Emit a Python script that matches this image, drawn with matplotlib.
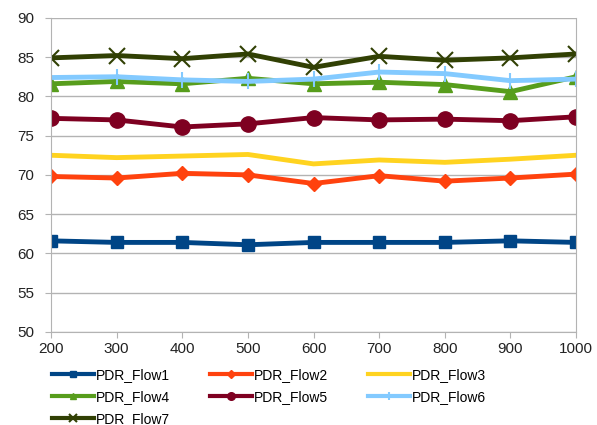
import matplotlib.pyplot as plt

plt.rcParams['font.family'] = ['Liberation Sans', 'DejaVu Sans']

nodes = [200, 300, 400, 500, 600, 700, 800, 900, 1000]

pdr_flow1 = [61.6, 61.4, 61.4, 61.1, 61.4, 61.4, 61.4, 61.6, 61.4]
pdr_flow2 = [69.8, 69.6, 70.2, 70.0, 68.9, 69.9, 69.2, 69.6, 70.1]
pdr_flow3 = [72.5, 72.2, 72.4, 72.6, 71.4, 71.9, 71.6, 72.0, 72.5]
pdr_flow4 = [81.6, 81.9, 81.6, 82.3, 81.6, 81.8, 81.5, 80.6, 82.5]
pdr_flow5 = [77.2, 77.0, 76.1, 76.5, 77.3, 77.0, 77.1, 76.9, 77.4]
pdr_flow6 = [82.4, 82.5, 82.1, 81.9, 82.2, 83.1, 82.9, 82.0, 82.2]
pdr_flow7 = [84.9, 85.2, 84.8, 85.4, 83.7, 85.1, 84.6, 84.9, 85.4]

series = [
    ('PDR_Flow1', pdr_flow1, '#004586', 's', 9, 1),
    ('PDR_Flow2', pdr_flow2, '#ff420e', 'D', 7.5, 1),
    ('PDR_Flow3', pdr_flow3, '#ffd320', '_', 6, 1),
    ('PDR_Flow4', pdr_flow4, '#579d1c', '^', 10, 1),
    ('PDR_Flow5', pdr_flow5, '#7e0021', 'o', 11, 1),
    ('PDR_Flow6', pdr_flow6, '#83caff', '+', 12, 1.5),
    ('PDR_Flow7', pdr_flow7, '#314004', 'x', 11, 1.5),
]

fig = plt.figure(figsize=(5.97, 4.25), dpi=100)
ax = fig.add_axes([0.0854, 0.219, 0.8796, 0.739])

lines = []
for name, vals, col, mk, ms, mew in series:
    ln, = ax.plot(nodes, vals, color=col, lw=3.5, marker=mk, markersize=ms,
                  markeredgewidth=mew, markeredgecolor=col, label=name,
                  solid_joinstyle='round')
    lines.append(ln)

ax.set_xlim(200, 1000)
ax.set_ylim(50, 90)
ax.set_xticks(nodes)
ax.set_yticks(range(50, 91, 5))
ax.yaxis.grid(True, color='#b3b3b3', lw=1)
ax.set_axisbelow(True)
for s in ax.spines.values():
    s.set_color('#b3b3b3')
ax.spines['top'].set_visible(False)
ax.tick_params(colors='#b3b3b3', labelcolor='#222222', labelsize=11, length=4)
ax.tick_params(axis='y', pad=8)

# legend fills row by row: Flow1 Flow2 Flow3 / Flow4 Flow5 Flow6 / Flow7
order = [0, 3, 6, 1, 4, 2, 5]
leg = fig.legend([lines[i] for i in order], [series[i][0] for i in order],
                 loc='upper left', bbox_to_anchor=(0.087, 0.135), ncol=3,
                 frameon=False, fontsize=10, handlelength=3, handletextpad=0.15,
                 columnspacing=2.9, labelspacing=0.6, markerscale=0.5,
                 borderaxespad=0, borderpad=0)
for h in leg.legend_handles:
    h.set_linewidth(3)

fig.savefig('out.png', dpi=100)
